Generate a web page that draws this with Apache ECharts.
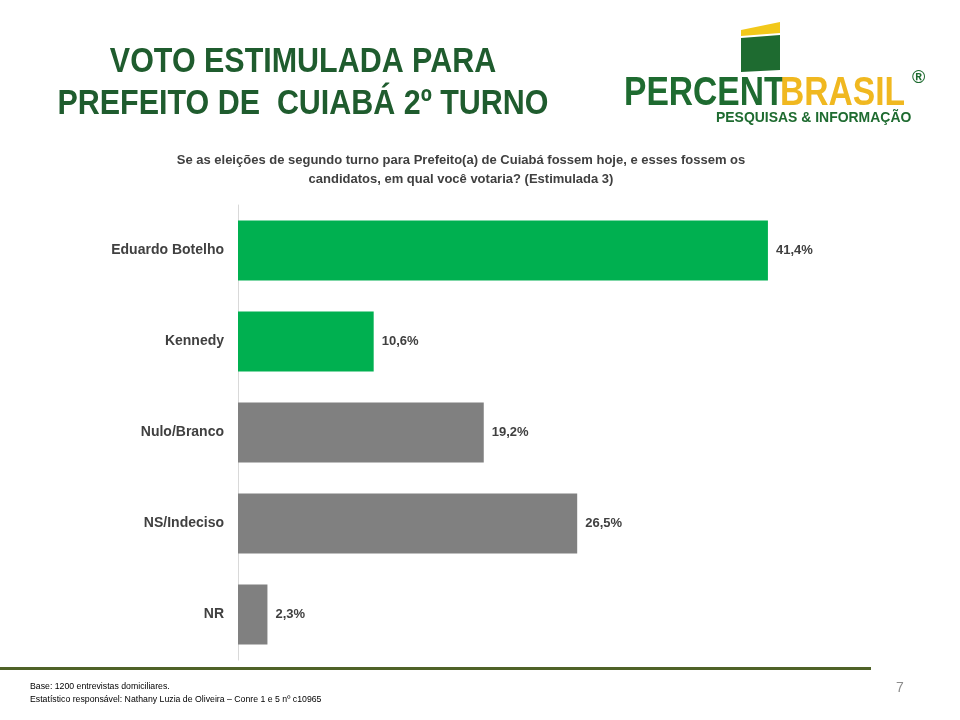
<!DOCTYPE html>
<html><head><meta charset="utf-8">
<script src="https://cdn.jsdelivr.net/npm/echarts@6/dist/echarts.min.js"></script>
<style>html,body{margin:0;padding:0;background:#fff}#c{width:960px;height:720px}</style>
</head><body><div id="c"></div>
<script>
const categories = ['Eduardo Botelho','Kennedy','Nulo/Branco','NS/Indeciso','NR'];
const values = [41.4, 10.6, 19.2, 26.5, 2.3];
const barColors = ['#00b050','#00b050','#808080','#808080','#808080'];
const chart = echarts.init(document.getElementById('c'));
const F = 'Liberation Sans, Arial, sans-serif';
function t(x,y,sx,style){return {type:'text',x:x,y:y,scaleX:sx,style:Object.assign({textVerticalAlign:'middle'},style)};}
chart.setOption({
  animation:false,
  grid:{left:238,top:205,width:640,height:455},
  xAxis:{type:'value',min:0,max:50,show:false},
  yAxis:{type:'category',inverse:true,data:categories,
    axisLine:{lineStyle:{color:'#d9d9d9'}},axisTick:{show:false},
    axisLabel:{color:'#404040',fontWeight:'bold',fontSize:14,fontFamily:F,margin:14}},
  series:[{type:'bar',barWidth:60,
    data:values.map((v,i)=>({value:v,itemStyle:{color:barColors[i]}})),
    label:{show:true,position:'right',distance:8,color:'#404040',fontWeight:'bold',fontSize:13,
      fontFamily:F,formatter:p=>p.value.toFixed(1).replace('.',',')+'%'}}],
  graphic:[
    t(303,62,0.87,{text:'VOTO ESTIMULADA PARA',fill:'#1f5c2e',font:'bold 35px '+F,textAlign:'center'}),
    t(303,104,0.87,{text:'PREFEITO DE  CUIABÁ 2º TURNO',fill:'#1f5c2e',font:'bold 35px '+F,textAlign:'center'}),
    t(461,170,1,{text:'Se as eleições de segundo turno para Prefeito(a) de Cuiabá fossem hoje, e esses fossem os\ncandidatos, em qual você votaria? (Estimulada 3)',fill:'#404040',font:'bold 13px '+F,textAlign:'center',lineHeight:19}),
    {type:'polygon',shape:{points:[[741,36],[780,33],[780,22],[741,30]]},style:{fill:'#f2c81a'}},
    {type:'polygon',shape:{points:[[741,38],[780,35],[780,70],[741,72]]},style:{fill:'#1e6b30'}},
    t(624,94,0.84,{text:'PERCENT',fill:'#1e6b30',font:'bold 40px '+F}),
    t(780,94,0.84,{text:'BRASIL',fill:'#f0b820',font:'bold 40px '+F}),
    t(912,78,1,{text:'®',fill:'#1e6b30',font:'bold 18px '+F}),
    t(716,118,0.93,{text:'PESQUISAS & INFORMAÇÃO',fill:'#1e6b30',font:'bold 15px '+F}),
    {type:'rect',shape:{x:0,y:667,width:871,height:3},style:{fill:'#4f6228'}},
    t(30,687,0.97,{text:'Base: 1200 entrevistas domiciliares.',fill:'#000',font:'9px '+F}),
    t(30,700,0.97,{text:'Estatístico responsável: Nathany Luzia de Oliveira – Conre 1 e 5 nº c10965',fill:'#000',font:'9px '+F}),
    t(900,688,1,{text:'7',fill:'#8c8c8c',font:'14px '+F,textAlign:'center'})
  ]
});
</script></body></html>
